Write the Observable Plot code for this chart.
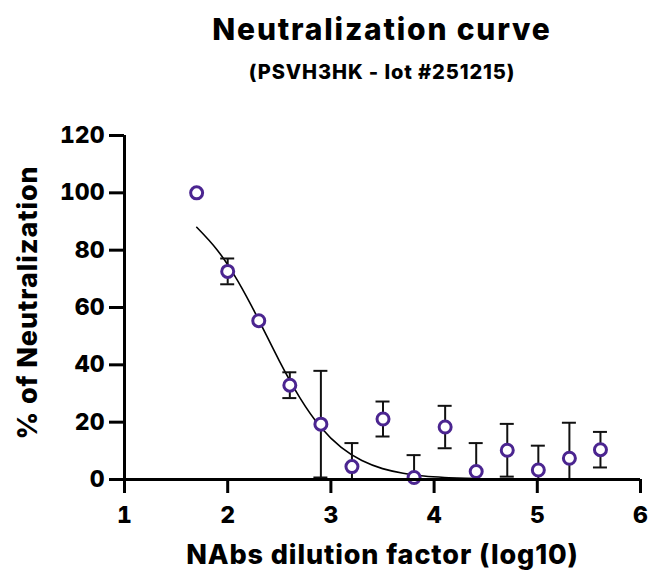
<!DOCTYPE html>
<html>
<head>
<meta charset="utf-8">
<script src="https://cdn.jsdelivr.net/npm/d3@7"></script>
<script src="https://cdn.jsdelivr.net/npm/@observablehq/plot@0.6"></script>
<style>
  html, body { margin: 0; padding: 0; background: #fff; }
  #wrap { position: relative; width: 649px; height: 574px; overflow: hidden; font-family: Inter, "DejaVu Sans", sans-serif; color: #000; }
  #title { position: absolute; left: 0; width: 764px; top: 9px; text-align: center; font-size: 30px; font-weight: 800; line-height: 40px; letter-spacing: 1.8px; }
  #subtitle { position: absolute; left: 0; width: 764px; top: 59px; text-align: center; font-size: 20px; font-weight: 800; line-height: 26px; letter-spacing: 0.9px; }
  #chart { position: absolute; left: 0; top: 90px; }
</style>
</head>
<body>
<div id="wrap">
  <div id="title">Neutralization curve</div>
  <div id="subtitle">(PSVH3HK - lot #251215)</div>
  <div id="chart"></div>
</div>
<script>
const dilutionLog = [1.699, 2.0, 2.301, 2.602, 2.903, 3.204, 3.505, 3.806, 4.107, 4.408, 4.709, 5.010, 5.311, 5.612];
const neutralization = [100, 72.6, 55.4, 32.9, 19.3, 4.5, 21.1, 0.7, 18.3, 2.8, 10.2, 3.3, 7.4, 10.4];
const sdValues = [0, 4.5, 0, 4.5, 18.6, 8.2, 6.1, 7.8, 7.4, 9.9, 9.2, 8.5, 12.4, 6.2];

const fitX = [1.7, 1.9, 2.1, 2.3, 2.5, 2.7, 2.9, 3.1, 3.3, 3.5, 3.7, 3.9, 4.1, 4.3, 4.5, 4.8, 5.2, 5.6];
const fitY = [88, 80, 69.1, 55.7, 41.4, 28.5, 18.3, 11.2, 6.6, 3.8, 2.2, 1.2, 0.7, 0.4, 0.2, 0.1, 0.05, 0.02];

const xTicks = [1, 2, 3, 4, 5, 6];
const yTicks = [0, 20, 40, 60, 80, 100, 120];

const xLabel = "NAbs dilution factor (log10)";
const yLabel = "% of Neutralization";

const points = dilutionLog.map((x, i) => ({x, y: neutralization[i], lo: neutralization[i] - sdValues[i], hi: neutralization[i] + sdValues[i], sd: sdValues[i]}));
const bars = points.filter(d => d.sd > 0);
const fit = fitX.map((x, i) => ({x, y: fitY[i]}));

const purple = "#4B2590";

const chart = Plot.plot({
  width: 649,
  height: 484,
  marginLeft: 124,
  marginRight: 9,
  marginTop: 45,
  marginBottom: 95,
  x: {domain: [1, 6]},
  y: {domain: [0, 120]},
  style: {fontFamily: "Inter, 'DejaVu Sans', sans-serif", fontSize: "23px", fontWeight: 800, color: "#000", background: "#fff", overflow: "visible"},
  marks: [
    Plot.line(fit, {x: "x", y: "y", curve: "natural", stroke: "#000", strokeWidth: 1.6}),
    Plot.ruleX(bars, {x: "x", y1: "lo", y2: "hi", stroke: "#111", strokeWidth: 2, clip: true}),
    Plot.ruleY(bars, {y: "hi", x1: "x", x2: "x", insetLeft: -7, insetRight: -7, stroke: "#111", strokeWidth: 2, clip: true}),
    Plot.ruleY(bars, {y: "lo", x1: "x", x2: "x", insetLeft: -7, insetRight: -7, stroke: "#111", strokeWidth: 2, clip: true}),
    Plot.dot(points, {x: "x", y: "y", r: 6, stroke: purple, strokeWidth: 3, fill: "#fff"}),
    Plot.ruleX([1], {y1: 0, y2: 120, stroke: "#000", strokeWidth: 3}),
    Plot.ruleY([0], {x1: 1, x2: 6, stroke: "#000", strokeWidth: 3}),
    Plot.axisX({ticks: xTicks, tickFormat: d3.format("d"), tickSize: 14, tickPadding: 13, strokeWidth: 3, label: null}),
    Plot.axisY({ticks: yTicks, tickFormat: d3.format("d"), tickSize: 15, tickPadding: 5, strokeWidth: 3, label: null}),
    Plot.text([xLabel], {frameAnchor: "bottom", textAnchor: "middle", dy: 84, fontSize: 27, fontWeight: 800}),
    Plot.text([yLabel], {frameAnchor: "left", textAnchor: "middle", dx: -96, dy: -5, rotate: -90, fontSize: 27, fontWeight: 800})
  ]
});
d3.select(chart).selectAll("text").filter(function() { return this.textContent === xLabel || this.textContent === yLabel; }).style("letter-spacing", "0.9px");
document.getElementById("chart").appendChild(chart);
</script>
</body>
</html>
